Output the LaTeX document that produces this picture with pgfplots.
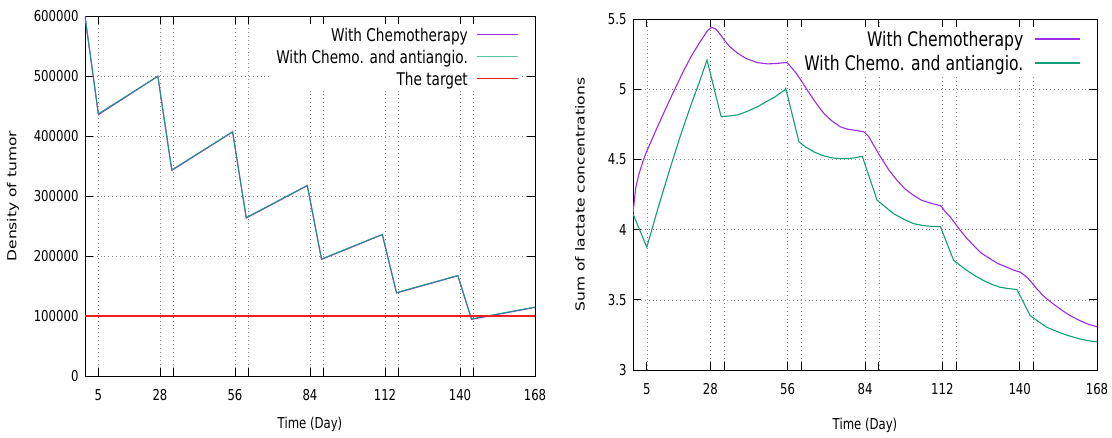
\documentclass[border=0pt]{standalone}
\usepackage{fontspec}
\setmainfont{DejaVu Sans}
\newfontfamily\cf{DejaVu Sans}[FakeStretch=0.78]
\usepackage{graphicx}
\usepackage{pgfplots}
\pgfplotsset{compat=1.18}

\definecolor{cpurple}{HTML}{9A2BE6}
\definecolor{cgreen}{HTML}{109E78}
\definecolor{cred}{HTML}{F01E1E}

\newcommand{\lsampleL}[1]{\hspace{9pt}{\color{#1}\rule[5.8pt]{41pt}{1.3pt}}}
\newcommand{\lsampleR}[1]{\hspace{12pt}{\color{#1}\rule[6.6pt]{45pt}{1.3pt}}}

\pgfplotsset{
  gp/.style={
    scale only axis,
    xmin=0, xmax=168,
    scaled x ticks=false, scaled y ticks=false,
    axis line style={black, line width=0.9pt},
    every tick/.style={black, line width=0.9pt},
    major tick length=8pt,
    tick align=inside,
    xtick={5,28,33,56,61,84,89,112,117,140,145,168},
    xticklabels={5,28,,56,,84,,112,,140,,168},
    grid=major,
    major grid style={black!45, line width=0.6pt, dash pattern=on 0.7pt off 3.2pt},
    tick label style={font=\cf\fontsize{15}{17}\selectfont},
    xticklabel style={yshift=-10pt},
    yticklabel style={xshift=-3pt},
    xlabel style={font=\cf\fontsize{15}{17}\selectfont, anchor=center},
    ylabel style={font=\fontsize{15.5}{17}\selectfont, anchor=center},
    legend cell align=right,
    legend plot pos=none,
  },
}

\begin{document}
\begin{tikzpicture}
\path[use as bounding box] (0pt,0pt) rectangle (1112pt,438pt);

% ---------------- left panel ----------------
\begin{axis}[gp,
  at={(85pt,62pt)}, anchor=south west,
  width=450pt, height=359.7pt,
  ymin=0, ymax=600000,
  ytick={0,100000,200000,300000,400000,500000,600000},
  yticklabels={0,100000,200000,300000,400000,500000,600000},
  xlabel={Time (Day)},
  ylabel={\scalebox{1}[0.8]{Density of tumor}},
  xlabel style={at={(axis description cs:0.5,-0.1334)}},
  ylabel style={at={(axis description cs:-0.16,0.5)}},
  legend style={draw=none, fill=white, at={(1,1)}, anchor=north east,
    xshift=-12.5pt, yshift=-7.7pt, inner sep=0pt, row sep=0pt,
    font=\cf\fontsize{17.5}{19}\selectfont,
    nodes={inner xsep=4.5pt, inner ysep=0pt, minimum height=22pt}},
]
\addplot[color=cpurple, line width=1.1pt] coordinates {
 (0,600000) (5,436000) (27.2,500000) (32.4,343000) (55.1,407000) (60.2,263500)
 (83.0,317500) (88.3,194500) (111.0,235800) (116.3,138500) (139.2,167200)
 (144.3,94500) (168,114500)
};
\addlegendentry{With Chemotherapy\lsampleL{cpurple}}
\addplot[color=cgreen, line width=1.1pt, opacity=0.85] coordinates {
 (0,600000) (5,437500) (27.2,500000) (32.4,343800) (55.1,407500) (60.2,264300)
 (83.0,318000) (88.3,195200) (111.0,236200) (116.3,139200) (139.2,167700)
 (144.3,95300) (168,115000)
};
\addlegendentry{With Chemo. and antiangio.\lsampleL{cgreen!65}}
\addplot[color=cred, line width=1.1pt] coordinates {(0,100000) (168,100000)};
\addlegendentry{The target\lsampleL{cred}}
\end{axis}

% ---------------- right panel ----------------
\begin{axis}[gp,
  at={(633pt,68pt)}, anchor=south west,
  width=464pt, height=350.7pt,
  ymin=3, ymax=5.5,
  ytick={3,3.5,4,4.5,5,5.5},
  yticklabels={3,3.5,4,4.5,5,5.5},
  xlabel={Time (Day)},
  ylabel={\scalebox{1}[0.8]{Sum of lactate concentrations}},
  xlabel style={at={(axis description cs:0.5,-0.157)}},
  ylabel style={at={(axis description cs:-0.114,0.5)}},
  legend style={draw=none, fill=white, at={(1,1)}, anchor=north east,
    xshift=-10.5pt, yshift=-8pt, inner sep=0pt, row sep=0pt,
    font=\cf\fontsize{20}{22}\selectfont,
    nodes={inner xsep=6pt, inner ysep=0pt, minimum height=24pt}},
]
\addplot[color=cpurple, line width=1.1pt] coordinates {
 (0,4.12) (1,4.30) (2.2,4.40) (4,4.51) (5,4.56) (8.9,4.735) (12,4.87) (15,4.996)
 (18,5.12) (21,5.234) (24,5.33) (27,5.42) (28.5,5.443) (30,5.43) (31.5,5.395)
 (33,5.353) (35,5.305) (37.9,5.258) (41,5.22) (45,5.191) (48.8,5.182) (52,5.185)
 (54.9,5.191) (55.8,5.19) (57,5.165) (58.9,5.12) (61,5.06) (63.1,4.995) (66,4.91)
 (69.1,4.829) (72,4.775) (75.1,4.733) (78,4.715) (80,4.71) (83.6,4.698)
 (85.4,4.662) (87.5,4.59) (89.6,4.52) (92.5,4.43) (95.6,4.352) (98.5,4.29)
 (101.6,4.245) (104.5,4.21) (107.7,4.19) (111.5,4.17) (113,4.13) (114.9,4.09)
 (118.5,3.995) (121,3.935) (123.3,3.888) (126,3.835) (129.3,3.793) (132,3.76)
 (135.3,3.733) (138,3.71) (140.2,3.698) (142.6,3.662) (144.5,3.62) (146.2,3.579)
 (149,3.52) (152.2,3.471) (155,3.43) (158.2,3.388) (161.8,3.352) (165,3.325)
 (168,3.308)
};
\addlegendentry{With Chemotherapy\lsampleR{cpurple}}
\addplot[color=cgreen, line width=1.1pt] coordinates {
 (0,4.113) (5,3.875) (9,4.15) (13,4.41) (17,4.66) (21,4.89) (24,5.05)
 (26.8,5.21) (31.9,4.806) (34.5,4.81) (37.9,4.818) (41.5,4.845)
 (45.2,4.878) (48,4.91) (51.2,4.944) (54.9,4.996) (55.3,5.007) (60.1,4.626)
 (62.5,4.59) (65.5,4.555) (68.5,4.53) (71.5,4.514) (74.5,4.507) (77.6,4.507)
 (80.5,4.513) (83.0,4.524) (88.4,4.21) (91.5,4.16) (94.4,4.114) (98,4.075)
 (101.6,4.043) (105,4.03) (108,4.024) (111.3,4.022) (116.1,3.781) (118.5,3.745)
 (120.9,3.71) (124,3.67) (126.9,3.638) (130,3.61) (132.9,3.59) (136,3.58)
 (139,3.574) (143.8,3.388) (146.8,3.345) (149.8,3.305) (152.8,3.28)
 (155.8,3.257) (158.8,3.238) (161.8,3.221) (165,3.208) (168,3.201)
};
\addlegendentry{With Chemo. and antiangio.\lsampleR{cgreen}}
\end{axis}
\end{tikzpicture}
\end{document}
